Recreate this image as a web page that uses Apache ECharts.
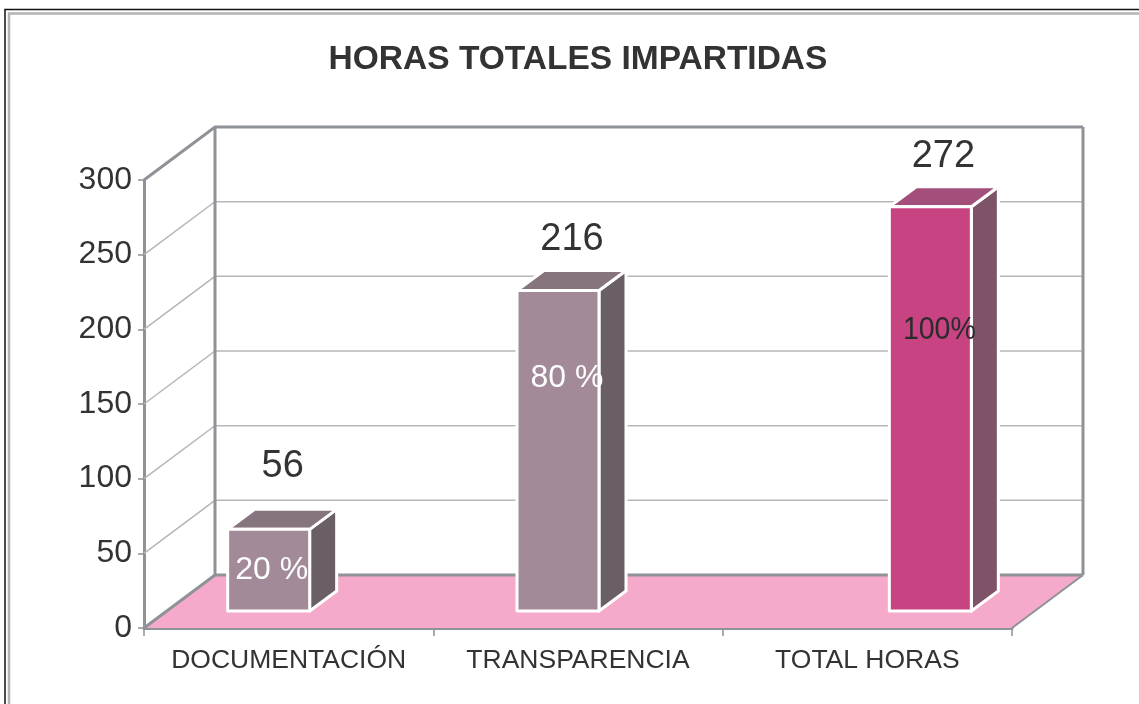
<!DOCTYPE html>
<html>
<head>
<meta charset="utf-8">
<style>
html, body { margin: 0; padding: 0; background: #fff; }
#chart { width: 1139px; height: 704px; }
</style>
<script src="https://cdn.jsdelivr.net/npm/echarts@6/dist/echarts.min.js"></script>
</head>
<body>
<div id="chart"></div>
<script>
var titleText = 'HORAS TOTALES IMPARTIDAS';
var categories = ['DOCUMENTACIÓN', 'TRANSPARENCIA', 'TOTAL HORAS'];
var hours = [56, 216, 272];
var percents = ['20 %', '80 %', '100%'];
var yTicks = [0, 50, 100, 150, 200, 250, 300];

// perspective of the fake 3d box, in pixels
var wallDx = 71, wallDy = -53;
var barDx = 27, barDy = -20;
var barLift = 17, barTopLift = 15, barWidth = 82;
// the bars are not evenly spaced in the picture
var barShift = [-20, -20, 63];
var valueLabelPos = [[14, -63], [14, -51], [13, -50]];
var percentPos = [[3, 41], [9, 88], [9, 123]];
// 100% is squeezed sideways in the picture
var percentScale = [1, 1, 0.89];

var barFront = ['#a28a99', '#a28a99', '#c74382'];
var barTop = ['#86747f', '#86747f', '#a2507b'];
var barSide = ['#6b5f67', '#6b5f67', '#7e5269'];
var percentColor = ['#fff', '#fff', '#2b2b2b'];

var axisGray = '#8f9296';
var gridGray = '#b5b7b9';
var textColor = '#333';
var fontName = '"Liberation Sans", Arial, sans-serif';

function renderWalls(params, api) {
    var v = api.value(0);
    var p = api.coord([0, v]);
    var left = params.coordSys.x;
    var right = left + params.coordSys.width;
    var y = p[1];
    var children = [];
    if (v === 0) {
        // floor and the two bottom edges
        children.push({
            type: 'polygon',
            shape: { points: [[left, y], [left + wallDx, y + wallDy], [right + wallDx, y + wallDy], [right, y]] },
            style: { fill: '#f5a9cb', stroke: null }
        });
        children.push({
            type: 'polyline',
            shape: { points: [[right, y], [right + wallDx, y + wallDy]] },
            style: { fill: null, stroke: axisGray, lineWidth: 2 }
        });
    }
    if (v > 0 && v < 300) {
        children.push({
            type: 'polyline',
            shape: { points: [[left, y], [left + wallDx, y + wallDy], [right + wallDx, y + wallDy]] },
            style: { fill: null, stroke: gridGray, lineWidth: 1.5 }
        });
    } else {
        children.push({
            type: 'polyline',
            shape: { points: [[left, y], [left + wallDx, y + wallDy], [right + wallDx, y + wallDy]] },
            style: { fill: null, stroke: axisGray, lineWidth: 3 }
        });
    }
    if (v === 300) {
        var bottom = api.coord([0, 0])[1];
        children.push({
            type: 'polyline',
            shape: { points: [[left + wallDx, y + wallDy], [left + wallDx, bottom + wallDy]] },
            style: { fill: null, stroke: axisGray, lineWidth: 3 }
        });
        children.push({
            type: 'polyline',
            shape: { points: [[right + wallDx, y + wallDy], [right + wallDx, bottom + wallDy]] },
            style: { fill: null, stroke: axisGray, lineWidth: 3 }
        });
    }
    return { type: 'group', children: children };
}

function renderBar(params, api) {
    var i = api.value(0);
    var base = api.coord([i, 0]);
    var top = api.coord([i, api.value(1)]);
    var x0 = base[0] + barShift[i] - barWidth / 2;
    var x1 = x0 + barWidth;
    var y0 = top[1] - barTopLift;
    var y1 = base[1] - barLift;
    var edge = { stroke: '#fff', lineWidth: 3, lineJoin: 'round' };
    return {
        type: 'group',
        children: [
            {
                type: 'polygon',
                shape: { points: [[x1, y1], [x1 + barDx, y1 + barDy], [x1 + barDx, y0 + barDy], [x1, y0]] },
                style: Object.assign({ fill: barSide[i] }, edge)
            },
            {
                type: 'polygon',
                shape: { points: [[x0, y0], [x0 + barDx, y0 + barDy], [x1 + barDx, y0 + barDy], [x1, y0]] },
                style: Object.assign({ fill: barTop[i] }, edge)
            },
            {
                type: 'rect',
                shape: { x: x0, y: y0, width: barWidth, height: y1 - y0 },
                style: Object.assign({ fill: barFront[i] }, edge)
            },
            {
                type: 'text',
                x: (x0 + x1) / 2 + valueLabelPos[i][0],
                y: y0 + valueLabelPos[i][1],
                style: {
                    text: String(api.value(1)), fill: textColor, font: '38px ' + fontName,
                    textAlign: 'center', textVerticalAlign: 'middle'
                }
            },
            {
                type: 'text',
                x: (x0 + x1) / 2 + percentPos[i][0],
                y: y0 + percentPos[i][1],
                scaleX: percentScale[i],
                style: {
                    text: percents[i], fill: percentColor[i], font: '32px ' + fontName,
                    textAlign: 'center', textVerticalAlign: 'middle'
                }
            }
        ]
    };
}

var chart = echarts.init(document.getElementById('chart'));
chart.setOption({
    animation: false,
    backgroundColor: '#fff',
    title: {
        text: titleText,
        left: 573,
        top: 38,
        textAlign: 'center',
        textStyle: { fontFamily: fontName, fontSize: 33.5, fontWeight: 'bold', color: textColor }
    },
    graphic: [
        // the frame runs off the right and bottom of the picture
        { type: 'rect', shape: { x: 5, y: 9.5, width: 1200, height: 760 }, style: { fill: null, stroke: '#111', lineWidth: 1.5 }, silent: true },
        { type: 'rect', shape: { x: 9, y: 13.5, width: 1200, height: 760 }, style: { fill: null, stroke: '#b4b4b8', lineWidth: 2.5 }, silent: true }
    ],
    grid: { left: 144, top: 180, width: 868, height: 448, containLabel: false },
    xAxis: {
        type: 'category',
        data: categories,
        axisLine: { lineStyle: { color: axisGray, width: 3 } },
        axisTick: { show: true, interval: 0, alignWithLabel: false, length: 8, lineStyle: { color: axisGray, width: 1.5 } },
        axisLabel: { interval: 0, hideOverlap: false, color: textColor, fontFamily: fontName, fontSize: 26.5, margin: 19 }
    },
    yAxis: {
        type: 'value',
        min: 0,
        max: 300,
        interval: 50,
        splitLine: { show: false },
        axisLine: { show: true, lineStyle: { color: axisGray, width: 3 } },
        axisTick: { show: true, length: 6, lineStyle: { color: axisGray, width: 1.5 } },
        axisLabel: { color: textColor, fontFamily: fontName, fontSize: 32, margin: 12 }
    },
    series: [
        {
            type: 'custom',
            name: 'walls',
            renderItem: renderWalls,
            data: yTicks.map(function (t) { return [t]; }),
            encode: { y: 0 },
            z: 1,
            clip: false,
            silent: true
        },
        {
            type: 'custom',
            name: 'horas',
            renderItem: renderBar,
            data: hours.map(function (h, i) { return [i, h]; }),
            encode: { x: 0, y: 1 },
            z: 5,
            clip: false,
            silent: true
        }
    ]
});
</script>
</body>
</html>
